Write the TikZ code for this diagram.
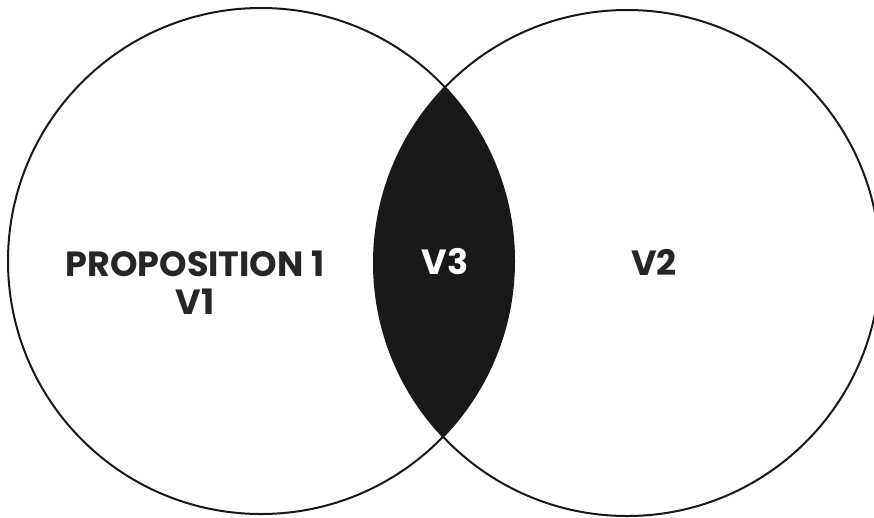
\documentclass[tikz,border=0pt]{standalone}
\usepackage{fontspec}
\setmainfont{Poppins}
\usetikzlibrary{positioning}
\begin{document}
\begin{tikzpicture}[x=1pt, y=-1pt,
    label text/.style={font=\fontsize{35}{38}\selectfont\bfseries, text=black!85, align=center, inner sep=0pt},
    ring/.style={line width=2pt, draw=black!90}]
  % Define dimensions
  \def\r{253pt}
  \useasboundingbox (0,0) rectangle (874,517);

  % Define centres
  \coordinate (L) at (261,261);
  \coordinate (R) at (627,263);

  % Fill the overlap
  \begin{scope}
    \clip (L) circle (\r);
    \fill[black!90] (R) circle (\r);
  \end{scope}

  % Draw circles
  \draw[ring] (L) circle (\r);
  \draw[ring] (R) circle (\r);

  % Label areas
  \node[label text] (prop) at (195,283) {PROPOSITION 1\\V1};
  \node[label text, text=white] (v3) at (445,262) {V3};
  \node[label text] (v2) at (654,262) {V2};
\end{tikzpicture}
\end{document}
